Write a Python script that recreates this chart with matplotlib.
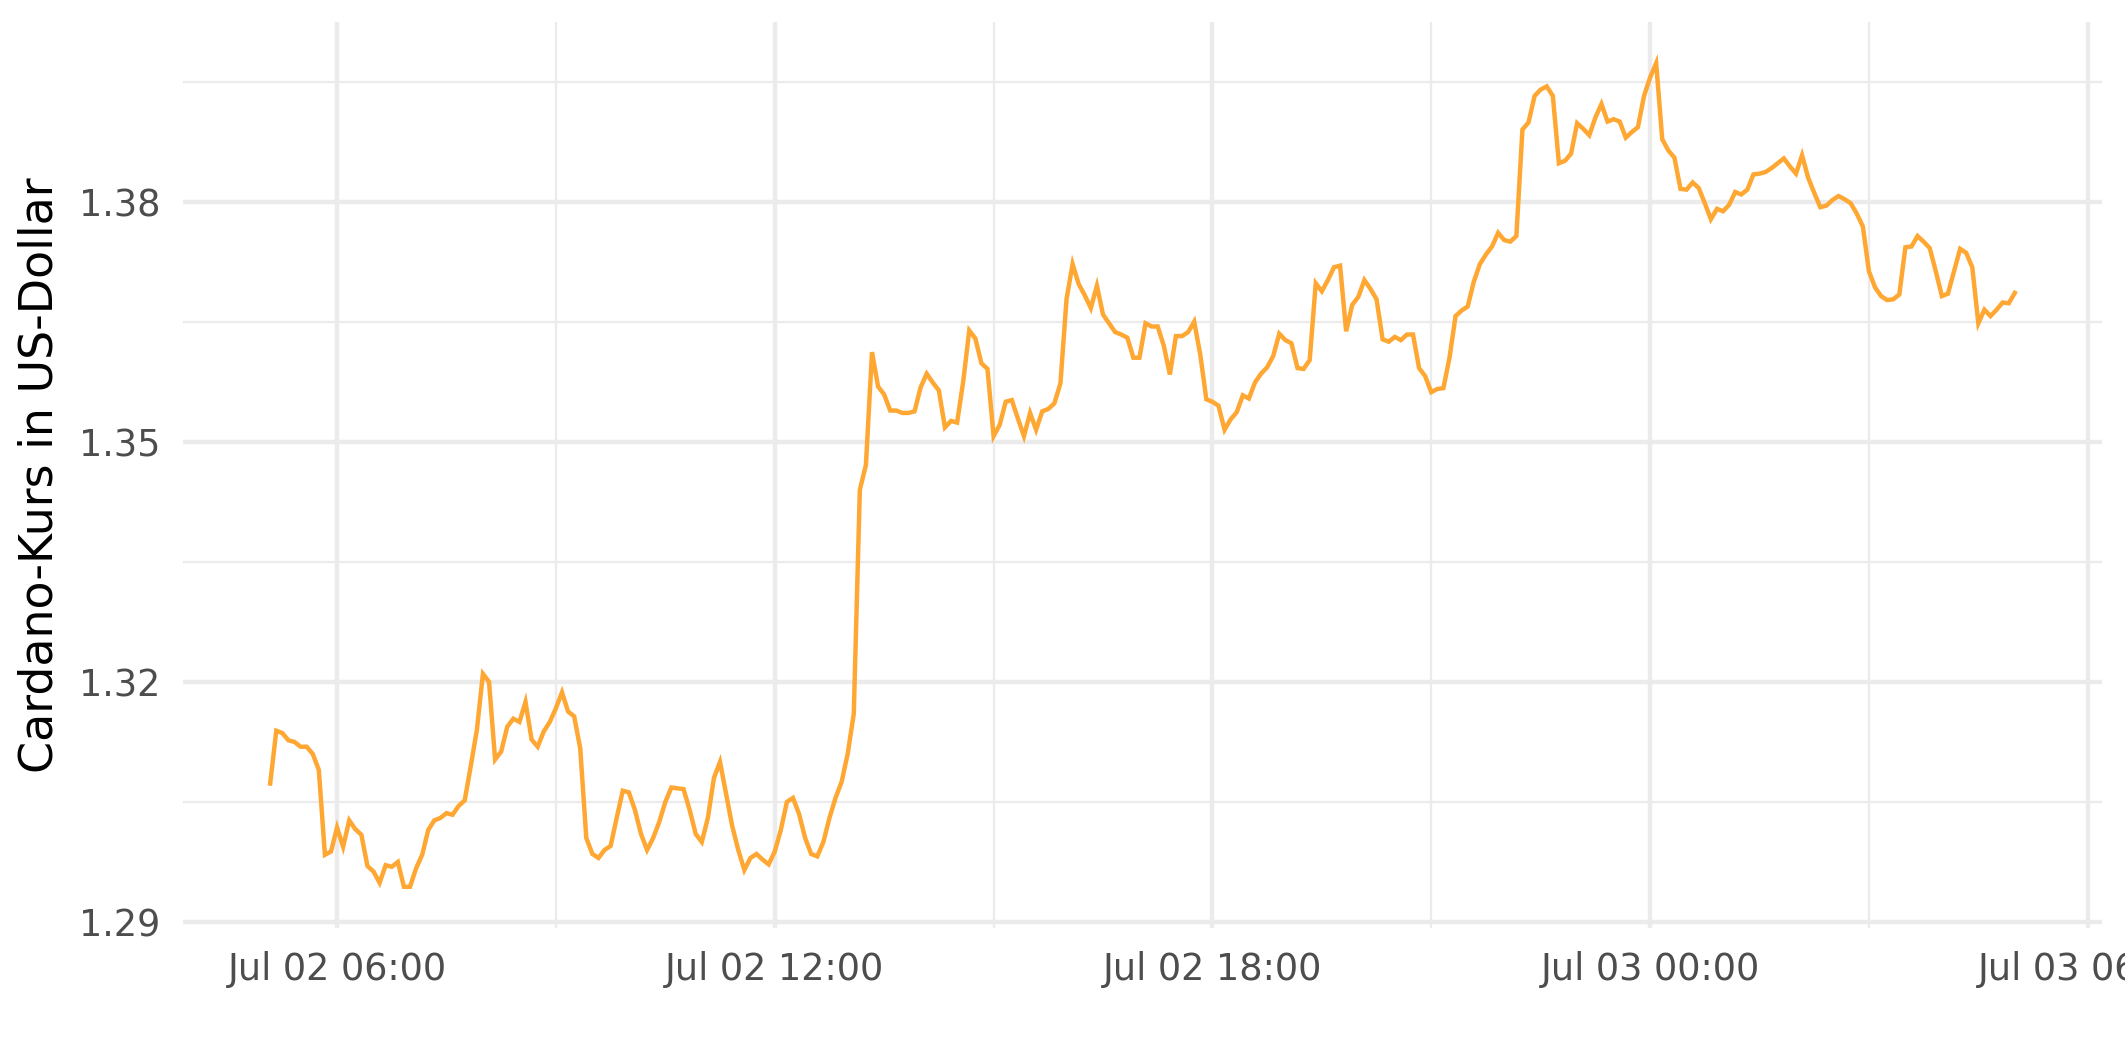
#!/usr/bin/env python
# -*- coding: utf-8 -*-
# Cardano (ADA) price in USD over 24 hours, 5-minute steps

import numpy as np
import pandas as pd
import matplotlib
matplotlib.use('Agg')
import matplotlib.pyplot as plt
import matplotlib.dates as mdates
from matplotlib.ticker import FixedLocator, FormatStrFormatter

# start of the series, one value every 5 minutes
start_time = '2024-07-02 05:05'
step = '5min'

# price values, one row per hour
kurs = [
    1.3073, 1.3139, 1.3136, 1.3127, 1.3125, 1.3119, 1.3119, 1.3110, 1.3090, 1.2984, 1.2988, 1.3018,
    1.2994, 1.3027, 1.3016, 1.3009, 1.2970, 1.2963, 1.2949, 1.2971, 1.2969, 1.2975, 1.2944, 1.2944,
    1.2967, 1.2984, 1.3015, 1.3027, 1.3030, 1.3036, 1.3034, 1.3045, 1.3052, 1.3095, 1.3140, 1.3210,
    1.3200, 1.3103, 1.3113, 1.3144, 1.3154, 1.3150, 1.3175, 1.3128, 1.3119, 1.3138, 1.3150, 1.3167,
    1.3187, 1.3163, 1.3157, 1.3117, 1.3005, 1.2985, 1.2980, 1.2990, 1.2995, 1.3030, 1.3064, 1.3062,
    1.3040, 1.3010, 1.2990, 1.3005, 1.3025, 1.3050, 1.3068, 1.3067, 1.3066, 1.3040, 1.3010, 1.3000,
    1.3030, 1.3080, 1.3100, 1.3060, 1.3020, 1.2990, 1.2965, 1.2980, 1.2985, 1.2978, 1.2972, 1.2988,
    1.3015, 1.3050, 1.3055, 1.3035, 1.3005, 1.2985, 1.2982, 1.3000, 1.3030, 1.3055, 1.3075, 1.3110,
    1.3160, 1.3440, 1.3471, 1.3612, 1.3569, 1.3559, 1.3539, 1.3539, 1.3536, 1.3536, 1.3538, 1.3568,
    1.3585, 1.3574, 1.3564, 1.3518, 1.3526, 1.3524, 1.3575, 1.3639, 1.3629, 1.3598, 1.3591, 1.3507,
    1.3521, 1.3550, 1.3552, 1.3529, 1.3507, 1.3536, 1.3515, 1.3538, 1.3541, 1.3548, 1.3573, 1.3678,
    1.3722, 1.3697, 1.3683, 1.3667, 1.3695, 1.3659, 1.3648, 1.3637, 1.3634, 1.3630, 1.3605, 1.3605,
    1.3648, 1.3644, 1.3644, 1.3620, 1.3584, 1.3632, 1.3632, 1.3637, 1.3650, 1.3609, 1.3553, 1.3550,
    1.3545, 1.3515, 1.3528, 1.3537, 1.3558, 1.3554, 1.3574, 1.3585, 1.3593, 1.3607, 1.3635, 1.3627,
    1.3623, 1.3592, 1.3591, 1.3602, 1.3698, 1.3688, 1.3702, 1.3718, 1.3720, 1.3638, 1.3671, 1.3681,
    1.3702, 1.3691, 1.3678, 1.3628, 1.3625, 1.3631, 1.3627, 1.3634, 1.3634, 1.3592, 1.3582, 1.3562,
    1.3566, 1.3567, 1.3605, 1.3657, 1.3664, 1.3669, 1.3700, 1.3722, 1.3734, 1.3744, 1.3761, 1.3752,
    1.3750, 1.3757, 1.3890, 1.3899, 1.3932, 1.3940, 1.3944, 1.3932, 1.3848, 1.3851, 1.3860, 1.3898,
    1.3891, 1.3883, 1.3905, 1.3922, 1.3900, 1.3903, 1.3900, 1.3880, 1.3887, 1.3893, 1.3932, 1.3955,
    1.3973, 1.3878, 1.3864, 1.3855, 1.3816, 1.3815, 1.3824, 1.3817, 1.3798, 1.3778, 1.3791, 1.3788,
    1.3796, 1.3812, 1.3809, 1.3815, 1.3834, 1.3835, 1.3837, 1.3842, 1.3848, 1.3854, 1.3844, 1.3835,
    1.3858, 1.3830, 1.3811, 1.3793, 1.3795, 1.3802, 1.3807, 1.3803, 1.3798, 1.3785, 1.3769, 1.3713,
    1.3693, 1.3682, 1.3677, 1.3678, 1.3684, 1.3743, 1.3744, 1.3757, 1.3750, 1.3742, 1.3713, 1.3682,
    1.3685, 1.3713, 1.3741, 1.3736, 1.3718, 1.3648, 1.3665, 1.3657, 1.3665, 1.3674, 1.3673, 1.3686,
]

y_major = [1.29, 1.32, 1.35, 1.38]
y_minor = [1.305, 1.335, 1.365, 1.395]
y_title = 'Cardano-Kurs in US-Dollar'

LINE_COLOR = '#FFA733'
GRID_COLOR = '#EBEBEB'
TEXT_GREY = '#4D4D4D'


def expand(lo, hi, frac=0.05):
    """ggplot style 5% padding on both sides"""
    pad = (hi - lo) * frac
    return lo - pad, hi + pad


def main():
    plt.rcParams['font.family'] = ['DejaVu Sans']

    zeit = pd.date_range(start_time, periods=len(kurs), freq=step)
    werte = np.array(kurs)

    fig = plt.figure(figsize=(2125 / 300, 1062 / 300), dpi=300)
    ax = fig.add_axes([0.0861, 0.1262, 0.9031, 0.8531])

    ax.plot(zeit, werte, color=LINE_COLOR, linewidth=1.07, solid_joinstyle='miter')

    # limits with the usual padding
    x_num = mdates.date2num(zeit)
    ax.set_xlim(*expand(x_num.min(), x_num.max()))
    ax.set_ylim(*expand(werte.min(), werte.max()))

    # ticks
    ax.xaxis.set_major_locator(mdates.HourLocator(byhour=[0, 6, 12, 18]))
    ax.xaxis.set_minor_locator(mdates.HourLocator(byhour=[3, 9, 15, 21]))
    ax.xaxis.set_major_formatter(mdates.DateFormatter('%b %d %H:%M'))
    ax.yaxis.set_major_locator(FixedLocator(y_major))
    ax.yaxis.set_minor_locator(FixedLocator(y_minor))
    ax.yaxis.set_major_formatter(FormatStrFormatter('%.2f'))

    ax.tick_params(which='both', length=0)
    ax.tick_params(axis='x', which='major', pad=5.5, labelsize=8.8, labelcolor=TEXT_GREY)
    ax.tick_params(axis='y', which='major', pad=5.5, labelsize=8.8, labelcolor=TEXT_GREY)

    # grid, minimal theme
    ax.grid(True, which='major', color=GRID_COLOR, linewidth=1.07)
    ax.grid(True, which='minor', color=GRID_COLOR, linewidth=0.53)
    ax.set_axisbelow(True)
    for spine in ax.spines.values():
        spine.set_visible(False)

    ax.set_ylabel(y_title, fontsize=11, color='black', va='center')
    ax.yaxis.set_label_coords(-0.0745, 0.5)

    fig.savefig('out.png', dpi=300, facecolor='white')
    plt.close(fig)


if __name__ == "__main__":
    main()
